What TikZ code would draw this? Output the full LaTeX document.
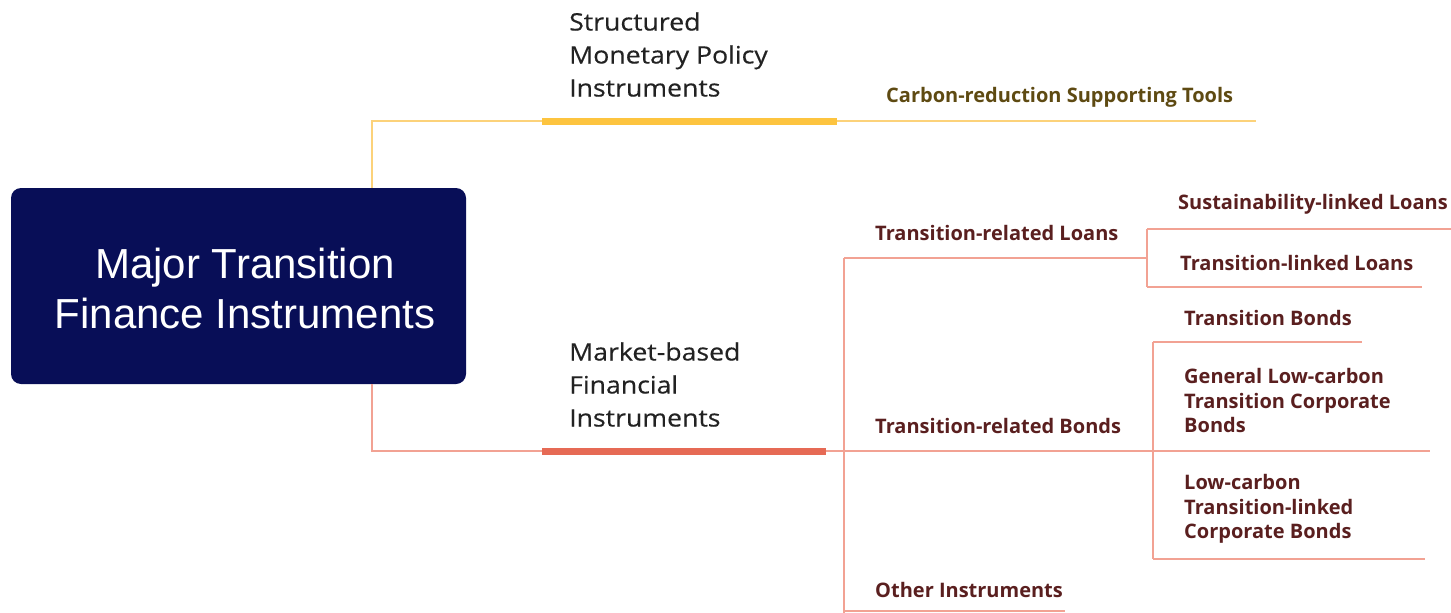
\documentclass[tikz,border=0pt]{standalone}
\usepackage{fontspec}
\setmainfont{Open Sans}[FakeStretch=1.0]
\newfontfamily\catf{Open Sans}[FakeStretch=1.11,FakeBold=0.4]
\newfontfamily\arialf{Liberation Sans}
\definecolor{navy}{HTML}{080E57}
\definecolor{ybar}{HTML}{FDC43F}
\definecolor{yline}{HTML}{FCD27A}
\definecolor{rbar}{HTML}{E66A55}
\definecolor{rline}{HTML}{F2A293}
\definecolor{olive}{HTML}{5E4A12}
\definecolor{maroon}{HTML}{5A1F1F}
\definecolor{dgray}{HTML}{222222}
\begin{document}
\begin{tikzpicture}[x=1pt,y=-1pt,
  root/.style={fill=navy, rounded corners=10pt, minimum width=455pt, minimum height=196pt, inner sep=0},
  rootlbl/.style={text=white, align=center, font=\arialf\fontsize{42}{50}\selectfont, inner sep=0},
  cat/.style={anchor=west, align=left, font=\catf\fontsize{24}{33}\selectfont, text=dgray, inner sep=0},
  lbl/.style={anchor=west, align=left, font=\bfseries\fontsize{20}{24.5}\selectfont, text=maroon, inner sep=0},
  ylbl/.style={lbl, text=olive},
  yl/.style={draw=yline, line width=2pt},
  ybarst/.style={draw=ybar, line width=7pt},
  rl/.style={draw=rline, line width=2pt},
  rbarst/.style={draw=rbar, line width=7pt}]
\useasboundingbox (0,0) rectangle (1451,613);

% root
\node[root] (root) at (238.5,286) {};
\node[rootlbl] (rootl) at (245,288) {Major Transition\\Finance Instruments};

% coordinates
\coordinate (ytop) at (372,121);
\coordinate (ys) at (542,121);
\coordinate (ye) at (837,121);
\coordinate (yend) at (1256,121);
\coordinate (rbot) at (372,451);
\coordinate (rs) at (542,451);
\coordinate (re) at (826,451);
\coordinate (rj) at (844,451);
\coordinate (lj) at (844,258);
\coordinate (ob) at (844,613);
\coordinate (oj) at (844,611);
\coordinate (oend) at (1065,611);
\coordinate (lk) at (1147,258);
\coordinate (lkt) at (1147,229);
\coordinate (lkb) at (1147,287);
\coordinate (lkte) at (1451,229);
\coordinate (lkbe) at (1422,287);
\coordinate (bkt) at (1153,342);
\coordinate (bkb) at (1153,559);
\coordinate (bkte) at (1362,342);
\coordinate (bkme) at (1430,451);
\coordinate (bkbe) at (1425,559);

% yellow branch
\draw[yl] (root.north -| ytop) -- (ytop) -- (ys);
\draw[ybarst] (ys) -- (ye);
\draw[yl] (ye) -- (yend);

% red branch
\draw[rl] (root.south -| rbot) -- (rbot) -- (rs);
\draw[rbarst] (rs) -- (re);
\draw[rl] (re) -- (rj);
\draw[rl] (lj) -- (ob);
\draw[rl] (lj) -- (lk);
\draw[rl] (oj) -- (oend);
\draw[rl] (lkt) -- (lkb);
\draw[rl] (lkt) -- (lkte);
\draw[rl] (lkb) -- (lkbe);
\draw[rl] (rj) -- (bkme);
\draw[rl] (bkt) -- (bkb);
\draw[rl] (bkt) -- (bkte);
\draw[rl] (bkb) -- (bkbe);

% texts
\node[cat] (smp) at (569,54.5) {Structured\\Monetary Policy\\Instruments};
\node[cat] (mbf) at (569,384.5) {Market-based\\Financial\\Instruments};
\node[ylbl] (crst) at (886,97) {Carbon-reduction Supporting Tools};
\node[lbl] (trl) at (875,233) {Transition-related Loans};
\node[lbl] (trb) at (875,426) {Transition-related Bonds};
\node[lbl] (oi) at (875,590) {Other Instruments};
\node[lbl] (sll) at (1178,204) {Sustainability-linked Loans};
\node[lbl] (tll) at (1180,263) {Transition-linked Loans};
\node[lbl] (tb) at (1184,318) {Transition Bonds};
\node[lbl] (glc) at (1184,400.5) {General Low-carbon\\Transition Corporate\\Bonds};
\node[lbl] (lct) at (1184,509) {Low-carbon\\Transition-linked\\Corporate Bonds};
\end{tikzpicture}
\end{document}
